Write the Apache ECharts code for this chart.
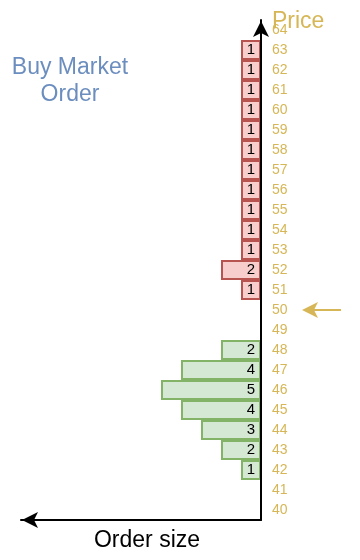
<!DOCTYPE html>
<html><head><meta charset="utf-8">
<script src="https://cdn.jsdelivr.net/npm/echarts@6/dist/echarts.min.js"></script>
<style>html,body{margin:0;padding:0;background:#fff}#c{width:360px;height:560px}</style>
</head><body><div id="c"></div>
<script>
const prices = ['40','41','42','43','44','45','46','47','48','49','50','51','52','53','54','55','56','57','58','59','60','61','62','63','64'];
const askPrices = ['51','52','53','54','55','56','57','58','59','60','61','62','63'];
const askSizes = [1,2,1,1,1,1,1,1,1,1,1,1,1];
const bidPrices = ['42','43','44','45','46','47','48'];
const bidSizes = [1,2,3,4,5,4,2];
const marketPrice = '50';

const FONT = '"Liberation Sans", Arial, Helvetica, sans-serif';
const GOLD = '#d6b656';

function toData(ps, vs) {
  return prices.map(p => { const i = ps.indexOf(p); return i >= 0 ? vs[i] : null; });
}

const chart = echarts.init(document.getElementById('c'), null, {renderer: 'canvas'});
const barLabel = {show: true, position: 'insideRight', distance: 6, color: '#000', fontSize: 15, fontFamily: FONT, formatter: '{c}'};

chart.setOption({
  animation: false,
  grid: {left: 21, right: 99, top: 20, bottom: 40, containLabel: false},
  xAxis: {
    type: 'value', inverse: true, min: 0, max: 12,
    axisLine: {show: true, onZero: false, symbol: ['arrow', 'none'], symbolSize: [12, 16], symbolOffset: [1, 0], lineStyle: {color: '#000', width: 2}},
    axisTick: {show: false}, axisLabel: {show: false}, splitLine: {show: false}
  },
  yAxis: {
    type: 'category', data: prices, position: 'right', z: 5,
    axisLine: {show: true, onZero: false, symbol: ['none', 'arrow'], symbolSize: [12, 16], symbolOffset: [0, -1], lineStyle: {color: '#000', width: 2}},
    axisTick: {show: false}, splitLine: {show: false},
    axisLabel: {color: GOLD, fontSize: 14, fontFamily: FONT, margin: 11, align: 'left'}
  },
  series: [
    {type: 'bar', name: 'Ask', stack: 'book', data: toData(askPrices, askSizes), barWidth: '100%',
     itemStyle: {color: '#f8cecc', borderColor: '#b85450', borderWidth: 2}, label: barLabel},
    {type: 'bar', name: 'Bid', stack: 'book', data: toData(bidPrices, bidSizes), barWidth: '100%',
     itemStyle: {color: '#d5e8d4', borderColor: '#82b366', borderWidth: 2}, label: barLabel}
  ]
});

const yMkt = chart.convertToPixel({yAxisIndex: 0}, marketPrice);
chart.setOption({
  graphic: [
    {type: 'text', left: 272, top: 10, style: {text: 'Price', fill: GOLD, font: '23px ' + FONT}},
    {type: 'text', x: 70, y: 81, style: {text: 'Buy Market\nOrder', fill: '#6c8ebf', font: '23px ' + FONT, align: 'center', verticalAlign: 'middle', lineHeight: 27}},
    {type: 'text', x: 147, y: 541, style: {text: 'Order size', fill: '#000', font: '23px ' + FONT, align: 'center', verticalAlign: 'middle'}},
    {type: 'line', shape: {x1: 341, y1: yMkt, x2: 312, y2: yMkt}, style: {stroke: GOLD, lineWidth: 2}},
    {type: 'polygon', shape: {points: [[302, yMkt], [318, yMkt - 8], [314, yMkt], [318, yMkt + 8]]}, style: {fill: GOLD}}
  ]
});
</script></body></html>
